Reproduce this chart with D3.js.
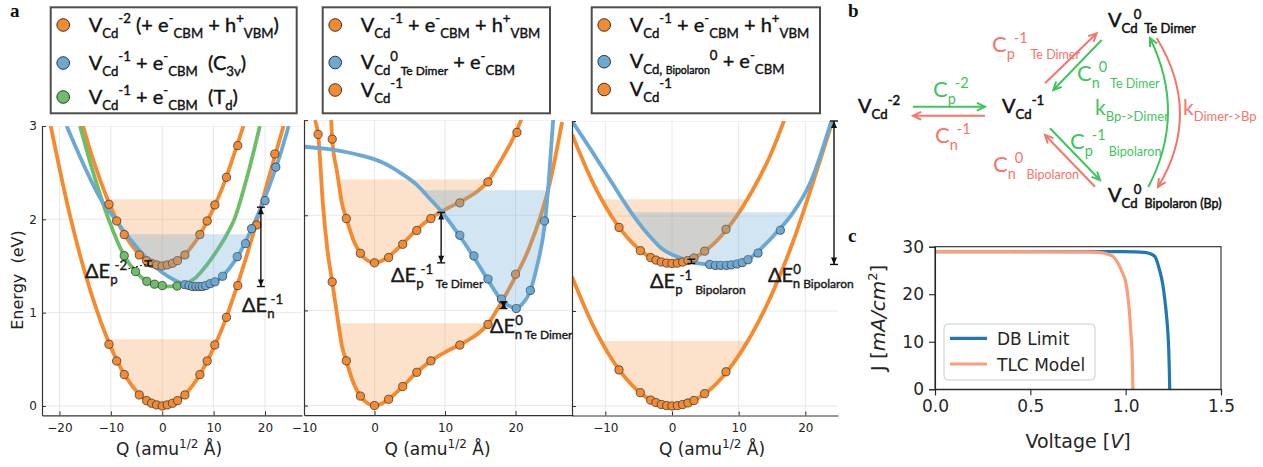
<!DOCTYPE html>
<html><head><meta charset="utf-8">
<script src="https://cdn.jsdelivr.net/npm/d3@7"></script>
<style>body{margin:0;background:#fff}svg{display:block}text{white-space:pre}</style>
</head><body>
<script>
// ================= DATA =================
// Panel a1 : V_Cd^-2 / C3v / Td  -- [Q (amu^1/2 Å), Energy (eV)]
const a1LowerLine = [[-21.7,3.0],[-18,2.05],[-15,1.42],[-12,0.91],[-10,0.63],[-8,0.40],[-6,0.225],[-4,0.10],[-2,0.025],[0,0],[2,0.025],[4,0.10],[6,0.225],[8,0.40],[10,0.62],[12,0.88],[15,1.36],[18,1.90],[21,2.50],[23.6,3.0]];
const a1UpperLine = [[-15.4,3.0],[-15,2.92],[-12,2.41],[-10,2.13],[-8,1.90],[-6,1.725],[-4,1.60],[-2,1.525],[0,1.5],[2,1.525],[4,1.60],[6,1.725],[8,1.90],[10,2.12],[12,2.38],[14,2.70],[15.8,3.0]];
const a1BlueLine  = [[-18.6,3.0],[-15,2.55],[-12,2.22],[-9,1.99],[-6,1.77],[-3,1.58],[0,1.43],[2.5,1.345],[5,1.295],[7,1.28],[9,1.295],[11,1.355],[13,1.47],[15,1.63],[17,1.85],[19,2.10],[21,2.38],[23,2.70],[24.6,3.0]];
const a1GreenLine = [[-16,3.0],[-13.7,2.55],[-10.5,2.01],[-7.4,1.61],[-5.2,1.44],[-3,1.335],[-1.5,1.30],[0.5,1.28],[3,1.29],[6.4,1.37],[8.5,1.50],[10.6,1.66],[12.5,1.83],[14.1,2.01],[16.5,2.45],[19,3.0]];
const a1LowerDots = [[-10.37,0.661],[-8.87,0.482],[-7.39,0.336],[-4.47,0.118],[-3.04,0.057],[-2.07,0.029],[-1.09,0.011],[0,0],[0.97,0.011],[2.0,0.029],[2.98,0.057],[4.41,0.118],[7.33,0.336],[8.75,0.482],[10.24,0.654],[12.5,0.95],[14.7,1.29],[18.4,1.94],[21.9,2.70]];
const a1UpperDots = [[-10.37,2.161],[-8.87,1.982],[-7.39,1.836],[-4.47,1.618],[-3.04,1.557],[-2.07,1.529],[-1.09,1.511],[0,1.5],[0.97,1.511],[2.0,1.529],[2.98,1.557],[4.41,1.618],[7.33,1.836],[8.75,1.982],[10.24,2.154],[12.5,2.45],[14.7,2.79]];
const a1BlueDots  = [[4.4,1.30],[5.2,1.29],[5.9,1.28],[6.55,1.28],[7.2,1.28],[7.8,1.28],[8.45,1.29],[9.3,1.31],[10.25,1.33],[11.75,1.39],[14.6,1.60],[16.2,1.74],[17.4,1.90],[20.0,2.20],[22.1,2.56]];
const a1GreenDots = [[-7.4,1.61],[-5.2,1.44],[-3.0,1.335],[-1.5,1.305],[0,1.29],[2.9,1.285]];
const a1FillTops  = [2.215, 1.84, 0.714];   // upper orange, blue, lower orange

// Panel a2 : Te Dimer
const a2LowerLine = [[-8.45,3.0],[-8,2.85],[-7.3,2.10],[-6.7,1.65],[-6,1.30],[-5.3,0.95],[-4.6,0.62],[-4,0.47],[-3,0.24],[-2,0.10],[-1,0.025],[0,0],[1,0.02],[2,0.066],[3,0.13],[4,0.20],[6,0.35],[8,0.47],[10,0.56],[12,0.636],[14,0.72],[16,0.85],[17.8,1.06],[19.6,1.30],[21.9,1.65],[24.9,2.35],[26.6,2.98]];
const a2UpperLine = [[-6.15,3.02],[-6,2.80],[-5.3,2.45],[-4.6,2.12],[-4,1.97],[-3,1.74],[-2,1.60],[-1,1.525],[0,1.5],[1,1.52],[2,1.566],[3,1.63],[4,1.70],[6,1.85],[8,1.97],[10,2.06],[12,2.136],[14,2.22],[16,2.35],[17.8,2.56],[19.6,2.80],[20.9,3.02]];
const a2BlueLine  = [[-10,2.72],[-6,2.69],[-2,2.63],[1,2.56],[4,2.43],[6,2.32],[8,2.16],[9.5,2.04],[12,1.79],[14,1.57],[16,1.33],[18,1.11],[19,1.05],[20,1.03],[21,1.07],[22,1.19],[23,1.45],[24.2,1.94],[24.7,2.35],[25.35,3.02]];
const a2LowerDots = [[-8,2.85],[-6,1.30],[-4,0.47],[-2,0.10],[0,0],[2,0.066],[4,0.20],[6,0.35],[8,0.47],[12.1,0.636],[16.1,0.853],[20.0,1.38]];
const a2UpperDots = [[-6,2.80],[-4,1.965],[-2,1.60],[0,1.50],[2,1.556],[4,1.695],[6,1.84],[8,1.965],[12.1,2.13],[16.1,2.35],[20.2,2.87]];
const a2BlueDots  = [[12.1,1.79],[14.1,1.573],[16.1,1.33],[18.0,1.12],[20.1,1.02],[22.1,1.21],[24.1,1.94]];
const a2FillTops  = [2.375, 2.262, 0.865];

// Panel a3 : Bipolaron
const a3LowerLine = [[-15,1.36],[-12,0.87],[-9,0.49],[-6,0.22],[-3,0.055],[0,0],[3,0.05],[6,0.19],[9,0.43],[12,0.76],[15,1.18],[18,1.70],[21,2.32],[24.1,3.0]];
const a3UpperLine = [[-15,2.86],[-12,2.37],[-9,1.99],[-6,1.72],[-3,1.555],[0,1.5],[3,1.55],[6,1.69],[9,1.93],[12,2.26],[15,2.68],[16.9,3.02]];
const a3BlueLine  = [[-15,3.0],[-12,2.68],[-9.1,2.36],[-5.85,2.01],[-3,1.76],[-1.6,1.66],[1,1.565],[3,1.515],[5.65,1.488],[7.5,1.478],[9.5,1.488],[11.4,1.54],[13.4,1.66],[16.25,1.87],[17.9,2.01],[20.8,2.36],[23.9,3.0]];
const a3LowerDots = [[-7.95,0.38],[-4.75,0.14],[-3.2,0.062],[-2.4,0.036],[-1.6,0.016],[-0.8,0.004],[0,0],[0.8,0.004],[1.6,0.015],[2.4,0.032],[3.3,0.058],[4.9,0.13],[8.1,0.36]];
const a3UpperDots = [[-7.95,1.88],[-4.75,1.635],[-3.2,1.562],[-2.4,1.536],[-1.6,1.516],[-0.8,1.504],[0,1.5],[0.8,1.504],[1.6,1.515],[2.4,1.532],[3.3,1.558],[4.9,1.63],[8.1,1.86]];
const a3BlueDots  = [[5.65,1.49],[6.5,1.48],[7.3,1.48],[8.15,1.48],[8.9,1.485],[9.75,1.495],[10.55,1.51],[11.4,1.54],[12.9,1.61],[16.25,1.85]];
const a3FillTops  = [2.176, 2.04, 0.684];

// Panel c : J-V curves  [V, J mA/cm2]
const dbV  = [0, 0.9, 1.05, 1.10, 1.13, 1.154, 1.175, 1.194, 1.205, 1.215, 1.222, 1.226, 1.229, 1.231];
const dbJ  = [28.95, 28.95, 28.93, 28.8, 28.5, 27.9, 25.5, 22.2, 19.0, 15.2, 11.5, 8.2, 4.0, 0];
const tlcV = [0, 0.80, 0.88, 0.915, 0.935, 0.96, 0.98, 1.002, 1.013, 1.022, 1.028, 1.033, 1.036, 1.038];
const tlcJ = [28.95, 28.93, 28.7, 28.3, 27.9, 26.5, 24.8, 22.2, 19.0, 15.2, 11.5, 8.2, 4.0, 0];
const cTicksX = [0, 0.5, 1.0, 1.5];
const cTicksY = [0, 10, 20, 30];
const cLegend = ['DB Limit', 'TLC Model'];

// Tick labels for panel a
const a1TicksX = [-20,-10,0,10,20], a2TicksX = [-10,0,10,20], a3TicksX = [-10,0,10,20];
const aTicksY = [0,1,2,3];

// Legend entries panel a  (text parts: [text, kind, size?, dx?])
const leg1 = [
 [['V','n'],['Cd','sub'],['-2','sup'],[' (+ e','n'],['-','sup'],['CBM','sub'],[' + h','n'],['+','sup'],['VBM','sub'],[')','n']],
 [['V','n'],['Cd','sub'],['-1','sup'],[' + e','n'],['-','sup'],['CBM','sub'],['  (C','n'],['3v','sub'],[')','n']],
 [['V','n'],['Cd','sub'],['-1','sup'],[' + e','n'],['-','sup'],['CBM','sub'],['  (T','n'],['d','sub'],[')','n']]];
const leg2 = [
 [['V','n'],['Cd','sub'],['-1','sup'],[' + e','n'],['-','sup'],['CBM','sub'],[' + h','n'],['+','sup'],['VBM','sub']],
 [['V','n'],['Cd','sub'],['0','sup'],[' Te Dimer','sub',12],[' + e','n'],['-','sup'],['CBM','sub']],
 [['V','n'],['Cd','sub'],['-1','sup']]];
const leg3 = [
 [['V','n'],['Cd','sub'],['-1','sup'],[' + e','n'],['-','sup'],['CBM','sub'],[' + h','n'],['+','sup'],['VBM','sub']],
 [['V','n'],['Cd, ','sub'],['Bipolaron','sub',10.5],['0','sup'],[' + e','n'],['-','sup'],['CBM','sub']],
 [['V','n'],['Cd','sub'],['-1','sup']]];

// ================= STYLE =================
const OR = '#f58a2f', BL = '#6aa9d5', GR = '#6dbe69';
const KG = '#3fc45e', KR = '#f5756b';
const svg = d3.select('body').append('svg').attr('width',1263).attr('height',467)
  .style('font-family','Lato, "Open Sans", sans-serif');
const defs = svg.append('defs');

function rich(g, x, y, parts, size, attrs) {
  const t = g.append('text').attr('x',x).attr('y',y).attr('font-size',size);
  if (attrs) for (const k in attrs) t.attr(k, attrs[k]);
  let cur = 0;
  parts.forEach(p => {
    const [s, kind, fsz, dx] = p;
    const fs = fsz || (kind === 'n' ? size : size*0.66);
    const off = kind === 'n' ? 0 : kind === 'sub' ? size*0.30 : -size*0.42;
    const ts = t.append('tspan').attr('dy', off-cur).attr('font-size', fs).text(s);
    if (dx) ts.attr('dx', dx);
    cur = off;
  });
  return t;
}
// medium-weight look for the geometric sans labels
function med(t, col, w) { return t.attr('stroke', col).attr('stroke-width', w || 0.35).attr('paint-order','stroke'); }

// ================= PANEL a =================
const panels = [
 {id:'p1', x0:42, x1:302, y0:415.3, y1:126, xd:[-23.4,27.2], xt:a1TicksX, ylab:true, labX:169,
  lines:[[a1LowerLine,OR],[a1UpperLine,OR],[a1GreenLine,GR],[a1BlueLine,BL]],
  dots:[[a1LowerDots,OR],[a1UpperDots,OR],[a1GreenDots,GR],[a1BlueDots,BL]], tops:a1FillTops},
 {id:'p2', x0:304, x1:573, y0:415.1, y1:120.1, xd:[-10,28.15], xt:a2TicksX, ylab:false, labX:437.5,
  lines:[[a2LowerLine,OR],[a2UpperLine,OR],[a2BlueLine,BL]],
  dots:[[a2LowerDots,OR],[a2UpperDots,OR],[a2BlueDots,BL]], tops:a2FillTops},
 {id:'p3', x0:572, x1:838, y0:415.5, y1:121, xd:[-15,24.9], xt:a3TicksX, ylab:false, labX:712,
  lines:[[a3LowerLine,OR],[a3UpperLine,OR],[a3BlueLine,BL]],
  dots:[[a3LowerDots,OR],[a3UpperDots,OR],[a3BlueDots,BL]], tops:a3FillTops}
];

function fillPath(g, node, yTop, color, op) {
  const L = node.getTotalLength(); const pts = [];
  for (let s = 0; s <= L; s += 0.5) { const p = node.getPointAtLength(s); if (p.y > yTop) pts.push([p.x,p.y]); }
  if (!pts.length) return;
  pts.sort((a,b)=>a[0]-b[0]);
  let d = 'M'+pts[0][0]+','+yTop+pts.map(p=>'L'+p[0]+','+p[1]).join('')+'L'+pts[pts.length-1][0]+','+yTop+'Z';
  g.append('path').attr('d',d).attr('fill',color).attr('fill-opacity',op);
}

panels.forEach(P => {
  const x = d3.scaleLinear().domain(P.xd).range([P.x0,P.x1]);
  const y = d3.scaleLinear().domain([-0.1,3.0]).range([P.y0,P.y1]);
  P.x = x; P.y = y;
  defs.append('clipPath').attr('id','c'+P.id).append('rect')
    .attr('x',P.x0).attr('y',P.y1).attr('width',P.x1-P.x0).attr('height',P.y0-P.y1);
  const g = svg.append('g');
  const gc = g.append('g').attr('clip-path','url(#c'+P.id+')');
  // grid
  P.xt.forEach(v => gc.append('line').attr('x1',x(v)).attr('x2',x(v)).attr('y1',P.y0).attr('y2',P.y1).attr('stroke','#e8e8e8').attr('stroke-width',1));
  aTicksY.forEach(v => gc.append('line').attr('x1',P.x0).attr('x2',P.x1).attr('y1',y(v)).attr('y2',y(v)).attr('stroke','#e8e8e8').attr('stroke-width',1));
  const gOF = gc.append('g'), gL = gc.append('g'), gD = gc.append('g'), gBF = gc.append('g');
  const lineGen = d3.line().x(d=>x(d[0])).y(d=>y(d[1])).curve(d3.curveMonotoneX);
  const nodes = P.lines.map(([pts,col]) => gL.append('path').attr('d',lineGen(pts)).attr('fill','none')
      .attr('stroke',col).attr('stroke-width',3.8).node());
  // dots
  P.dots.forEach(([pts,col]) => gD.selectAll(null).data(pts).enter().append('circle')
      .attr('cx',d=>x(d[0])).attr('cy',d=>y(d[1])).attr('r',4.1).attr('fill',col)
      .attr('stroke','#3a3a3a').attr('stroke-width',0.8));
  // fills: upper orange (line 1), blue (last line), lower orange (line 0)
  const blueNode = nodes[nodes.length-1];
  fillPath(gOF, nodes[1], y(P.tops[0]), OR, 0.25);
  fillPath(gOF, nodes[0], y(P.tops[2]), OR, 0.25);
  fillPath(gBF, blueNode, y(P.tops[1]), BL, 0.3);
  // axes
  const ax = g.append('g').attr('transform','translate(0,'+P.y0+')')
    .call(d3.axisBottom(x).tickValues(P.xt).tickSizeInner(-4).tickSizeOuter(0).tickPadding(8));
  const ay = g.append('g').attr('transform','translate('+P.x0+',0)')
    .call(d3.axisLeft(y).tickValues(aTicksY).tickSizeInner(-4).tickSizeOuter(0).tickPadding(5)
      .tickFormat(P.ylab ? d3.format('d') : ''));
  [ax,ay].forEach(a => {
    a.select('.domain').attr('stroke','#333').attr('stroke-width',1.2);
    a.selectAll('.tick line').attr('stroke','#333');
    a.selectAll('text').attr('font-family','"DejaVu Sans", sans-serif').attr('font-size',12).attr('fill','#222');
  });
  // x label
  rich(g, P.labX, 455, [['Q (amu','n'],['1/2','sup',12],[' Å)','n',17]], 17,
    {'text-anchor':'middle','font-family':'"DejaVu Sans", sans-serif','fill':'#222'});
});
svg.append('text').attr('transform','translate(23,280) rotate(-90)').attr('text-anchor','middle')
  .attr('font-family','"DejaVu Sans", sans-serif').attr('font-size',16).attr('fill','#222').text('Energy  (eV)');

// annotations panel a
const [P1,P2,P3] = panels;
const ann = svg.append('g');
function vArrow(P, q, e1, e2, heads) {
  const X = P.x(q), Ya = P.y(e1), Yb = P.y(e2);
  ann.append('line').attr('x1',X).attr('x2',X).attr('y1',Ya).attr('y2',Yb).attr('stroke','#111').attr('stroke-width',1.4);
  [Ya,Yb].forEach((Yv,i) => {
    ann.append('line').attr('x1',X-4).attr('x2',X+4).attr('y1',Yv).attr('y2',Yv).attr('stroke','#111').attr('stroke-width',1.4);
    if (heads) {
      const s = (Yv === Math.min(Ya,Yb)) ? 1 : -1;
      ann.append('path').attr('d',`M${X},${Yv}L${X-3},${Yv+7*s}L${X+3},${Yv+7*s}Z`).attr('fill','#111');
    }
  });
}
vArrow(P1, 19.2, 2.13, 1.28, true);
vArrow(P1, -2.7, 1.50, 1.555, false);
ann.append('line').attr('x1',P1.x(-6.6)).attr('y1',P1.y(1.47)).attr('x2',P1.x(-2.7)).attr('y2',P1.y(1.525))
  .attr('stroke','#111').attr('stroke-width',1).attr('stroke-dasharray','2,2');
vArrow(P2, 9.45, 2.03, 1.50, true);
vArrow(P2, 18.3, 1.09, 1.02, true);
vArrow(P3, 24.3, 3.0, 1.49, true);
vArrow(P3, 2.9, 1.50, 1.545, false);

const annTxt = svg.append('g').attr('fill','#1a1a1a');
[
 [85, 278, [['ΔE','n'],['p','sub'],['-2','sup',null,-3]]],
 [242, 312, [['ΔE','n'],['n','sub'],['-1','sup',null,-4]]],
 [391, 282, [['ΔE','n'],['p','sub'],['-1','sup',null,-3],[' Te Dimer','sub',12]]],
 [490, 333, [['ΔE','n'],['0','sup'],['n','sub',null,-8],[' Te Dimer','sub',12]]],
 [650, 288, [['ΔE','n'],['p','sub'],['-1','sup',null,-3],[' Bipolaron','sub',12]]],
 [768, 282, [['ΔE','n'],['0','sup'],['n','sub',null,-8],[' Bipolaron','sub',12]]]
].forEach(([x,y,p]) => med(rich(annTxt, x, y, p, 20), '#1a1a1a', 0.4));

// legends panel a
function legend(x0, w, entries, colors, rows) {
  const g = svg.append('g');
  g.append('rect').attr('x',x0).attr('y',7.3).attr('width',w).attr('height',106).attr('fill','#fff')
    .attr('stroke','#4d4d4d').attr('stroke-width',2);
  entries.forEach((parts,i) => {
    g.append('circle').attr('cx',x0+12.5).attr('cy',rows[i]).attr('r',6.3).attr('fill',colors[i])
      .attr('stroke','#333').attr('stroke-width',1);
    med(rich(g, x0+38, rows[i]+6.5, parts, 20, {fill:'#111'}), '#111', 0.4);
  });
}
legend(50.7, 246, leg1, [OR,BL,GR], [25,63,97]);
legend(322.7, 227.3, leg2, [OR,BL,OR], [25,62.5,90]);
legend(591.7, 228.3, leg3, [OR,BL,OR], [25,61.7,89.5]);

// panel letters
[['a',10,17],['b',848,17],['c',848,242]].forEach(([t,x,y]) =>
  svg.append('text').attr('x',x).attr('y',y).attr('font-family','"Liberation Serif", serif')
    .attr('font-weight','bold').attr('font-size',19).attr('fill','#111').text(t));

// ================= PANEL b =================
const gb = svg.append('g');
function arrowTo(g, x1,y1,x2,y2,col) {
  g.append('line').attr('x1',x1).attr('y1',y1).attr('x2',x2).attr('y2',y2).attr('stroke',col).attr('stroke-width',2);
  head(g, x2,y2, Math.atan2(y2-y1,x2-x1), col);
}
function head(g, x,y,ang,col) {
  const L = 9, a = 0.45;
  const p1 = [x - L*Math.cos(ang-a), y - L*Math.sin(ang-a)], p2 = [x - L*Math.cos(ang+a), y - L*Math.sin(ang+a)];
  g.append('path').attr('d',`M${p1}L${x},${y}L${p2}`).attr('fill','none').attr('stroke',col).attr('stroke-width',2);
}
arrowTo(gb, 913,106.7, 985,106.7, KG);
arrowTo(gb, 985,115.7, 913,115.7, KR);
arrowTo(gb, 1045,83.3, 1096.7,33.3, KR);
arrowTo(gb, 1101.7,40, 1053.3,90, KG);
arrowTo(gb, 1050,128.3, 1100,180, KG);
arrowTo(gb, 1095,186.7, 1045,135, KR);
function arc(g, p0, c, p2, col) {
  g.append('path').attr('d',`M${p0}Q${c} ${p2}`).attr('fill','none').attr('stroke',col).attr('stroke-width',2);
  head(g, p2[0],p2[1], Math.atan2(p2[1]-c[1],p2[0]-c[0]), col);
}
arc(gb, [1148.3,187], [1186.8,113.5], [1150,38], KG);
arc(gb, [1156.7,38], [1202.6,113.5], [1158,187], KR);

const bt = gb.append('g');
med(rich(bt, 858, 113, [['V','n'],['Cd','sub'],['-2','sup']], 20, {fill:'#111'}), '#111', 0.5);
med(rich(bt, 1002, 113, [['V','n'],['Cd','sub'],['-1','sup']], 20, {fill:'#111'}), '#111', 0.5);
med(rich(bt, 1108, 27, [['V','n'],['Cd','sub'],['0','sup',null,-4],[' Te Dimer','sub',13]], 20, {fill:'#111'}), '#111', 0.5);
med(rich(bt, 1108, 202, [['V','n'],['Cd','sub'],['0','sup',null,-4],[' Bipolaron (Bp)','sub',12.5]], 20, {fill:'#111'}), '#111', 0.5);
rich(bt, 933, 97, [['C','n'],['p','sub'],['-2','sup',null,-1]], 22, {fill:KG});
rich(bt, 935, 143, [['C','n'],['n','sub'],['-1','sup',null,-1]], 22, {fill:KR});
rich(bt, 992, 52, [['C','n'],['p','sub'],['-1','sup',null,-1],[' Te Dimer','sub',12.5]], 22, {fill:KR});
rich(bt, 1077, 81, [['C','n'],['n','sub'],['0','sup',null,-1],[' Te Dimer','sub',12.5]], 22, {fill:KG});
rich(bt, 1070, 149, [['C','n'],['p','sub'],['-1','sup',null,-1],[' Bipolaron','sub',12.5]], 22, {fill:KG});
rich(bt, 993, 172, [['C','n'],['n','sub'],['0','sup',null,-1],[' Bipolaron','sub',12.5]], 22, {fill:KR});
rich(bt, 1095, 115, [['k','n'],['Bp->Dimer','sub',13]], 21, {fill:KG});
rich(bt, 1183, 115, [['k','n'],['Dimer->Bp','sub',13]], 21, {fill:KR});

// ================= PANEL c =================
const gcP = svg.append('g');
const cx = d3.scaleLinear().domain([0,1.5]).range([935,1221]);
const cy = d3.scaleLinear().domain([0,30]).range([389.3,246.7]);
const cline = d3.line().x(d=>cx(d[0])).y(d=>cy(d[1])).curve(d3.curveMonotoneX);
gcP.append('path').attr('d',cline(dbV.map((v,i)=>[v,dbJ[i]]))).attr('fill','none').attr('stroke','#1f77b4').attr('stroke-width',3.2);
gcP.append('path').attr('d',cline(tlcV.map((v,i)=>[v,tlcJ[i]]))).attr('fill','none').attr('stroke','#fa9e7c').attr('stroke-width',3.2);
gcP.append('rect').attr('x',935).attr('y',246.7).attr('width',286).attr('height',142.6).attr('fill','none').attr('stroke','#262626').attr('stroke-width',1.1);
const cax = gcP.append('g').attr('transform','translate(0,389.3)').call(d3.axisBottom(cx).tickValues(cTicksX).tickFormat(d3.format('.1f')).tickSize(6).tickPadding(5));
const cay = gcP.append('g').attr('transform','translate(935,0)').call(d3.axisLeft(cy).tickValues(cTicksY).tickSize(6).tickPadding(5));
[cax,cay].forEach(a => {
  a.select('.domain').attr('stroke','#262626').attr('stroke-width',1.1);
  a.selectAll('.tick line').attr('stroke','#262626').attr('stroke-width',1.1);
  a.selectAll('text').attr('font-family','"DejaVu Sans", sans-serif').attr('font-size',17).attr('fill','#262626');
});
rich(gcP, 1078, 448, [['Voltage ','n'],['[','n'],['V','n'],[']','n']], 19, {'text-anchor':'middle','font-family':'"DejaVu Sans", sans-serif',fill:'#262626'})
  .selectAll('tspan').filter((d,i)=>i===2).attr('font-style','italic');
const jl = rich(gcP, 0, 0, [['J ','n'],['[','n'],['mA/cm','n'],['2','sup',13],[']','n']], 20,
  {'text-anchor':'middle','font-family':'"DejaVu Sans", sans-serif',fill:'#262626',transform:'translate(885,318) rotate(-90)'});
jl.selectAll('tspan').filter((d,i)=>i===2).attr('font-style','italic');
const lg = gcP.append('g');
lg.append('rect').attr('x',944).attr('y',324).attr('width',151).attr('height',56).attr('rx',4)
  .attr('fill','#fff').attr('fill-opacity',0.85).attr('stroke','#cccccc');
[['#1f77b4',338.3],['#fa9e7c',364]].forEach(([c,yy],i) => {
  lg.append('line').attr('x1',950).attr('x2',987).attr('y1',yy).attr('y2',yy).attr('stroke',c).attr('stroke-width',3.2);
  lg.append('text').attr('x',997).attr('y',yy+6.5).attr('font-family','"DejaVu Sans", sans-serif').attr('font-size',17).attr('fill','#262626').text(cLegend[i]);
});
</script>
</body></html>
